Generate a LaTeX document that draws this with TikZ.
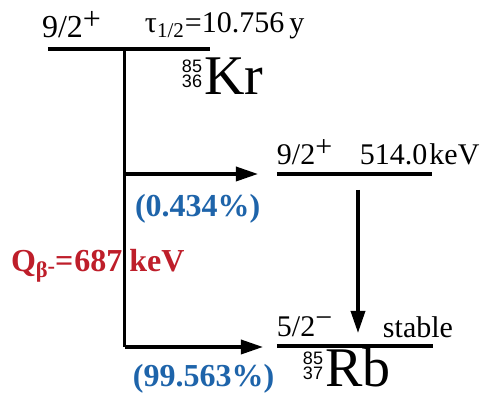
\documentclass[tikz,border=0pt]{standalone}
\usepackage{fontspec}
\setmainfont{Liberation Serif}
\setsansfont{Liberation Sans}
\usetikzlibrary{arrows.meta, positioning}

\definecolor{branchblue}{RGB}{30,100,170}
\definecolor{qred}{RGB}{190,30,42}

% nuclide symbol with stacked mass and charge numbers
\newcommand{\nuclide}[3]{%
  \raisebox{3.5pt}{\fontsize{9}{9}\sffamily\begin{tabular}[b]{@{}r@{}}#1\\[-1.3pt]#2\end{tabular}}%
  \kern1pt{\fontsize{28}{28}\selectfont #3}}
% raised parity sign
\newcommand{\parity}[1]{\raisebox{0.27em}{#1}}

\begin{document}
\begin{tikzpicture}[
    x=0.5pt, y=-0.5pt,
    every node/.style={inner sep=0pt, outer sep=0pt, anchor=base west,
      font=\fontsize{15}{16}\selectfont},
    level/.style={line width=2pt},
    feed/.style={line width=1.5pt},
    arrow/.style={-{Triangle[length=11pt,width=7pt]}, line width=1.7pt},
    branch/.style={font=\fontsize{16}{17}\selectfont\bfseries, text=branchblue}
]
\useasboundingbox (0,0) rectangle (489,399);

% ------------------------
% Parent: 85Kr (top)
% ------------------------
\coordinate (kr-l) at (48,49);
\coordinate (kr-r) at (210,49);
\draw[level] (kr-l) -- (kr-r);

\node (kr-spin) [font=\fontsize{16}{17}\selectfont] at (42,38) {9/2\parity{+}};
\node (kr-half) at (145,33) {τ\textsubscript{1/2}=10.756\,y};
\node (kr) at (182,95) {\nuclide{85}{36}{Kr}};

% ------------------------
% Daughter: 85Rb levels (right)
% ------------------------
\coordinate (ex-l) at (277,174);
\coordinate (ex-r) at (432,174);
\draw[level] (ex-l) -- (ex-r);

\node (ex-spin) at (277,165) {9/2\parity{+}};
\node (ex-energy) at (360,165) {514.0\kern1pt keV};

\coordinate (gs-l) at (277,346);
\coordinate (gs-r) at (433,346);
\draw[level] (gs-l) -- (gs-r);

\node (gs-spin) at (277,337) {5/2\raisebox{0.33em}{−}};
\node (gs-stable) at (383,338) {stable};
\node (rb) at (303,387) {\nuclide{85}{37}{Rb}};

% ------------------------
% Beta branches
% ------------------------
\coordinate (stem) at (125,49);
\coordinate (b1) at (125,174);
\coordinate (b2) at (125,347);
\coordinate (b1-end) at (258,174);
\coordinate (b2-end) at (263,347);

\draw[feed] (stem) -- (b2);
\draw[arrow] (b1) -- (b1-end);
\draw[arrow] (b2) -- (b2-end);

\node[branch] (br1) at (135,217) {(0.434\%)};
\node[branch] (br2) at (133,387) {(99.563\%)};

\node (qval) [font=\fontsize{16}{17}\selectfont\bfseries, text=qred] at (11,272)
  {Q\textsubscript{β\raisebox{2pt}{-}}\kern-0.5pt=\kern0.5pt687\kern3.5pt keV};

% ------------------------
% Gamma transition
% ------------------------
\coordinate (g-top) at (358,190);
\coordinate (g-end) at (358,333);
\draw[arrow] (g-top) -- (g-end);

\end{tikzpicture}
\end{document}
